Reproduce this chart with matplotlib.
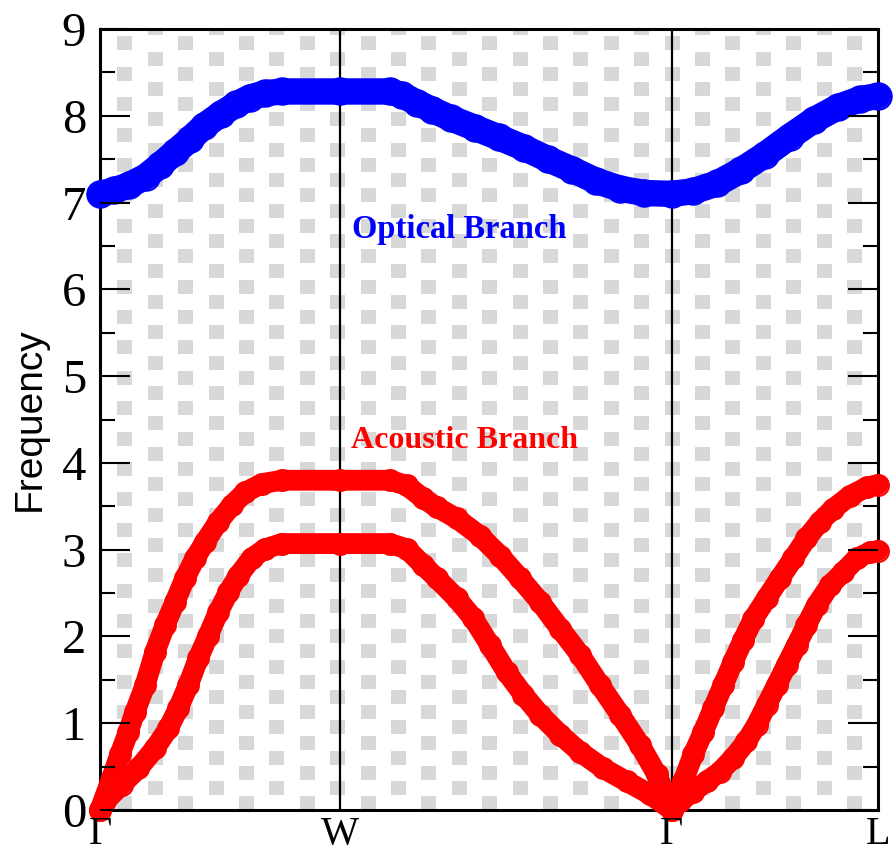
import numpy as np
import matplotlib
matplotlib.use('Agg')
import matplotlib.pyplot as plt

# high-symmetry points of the path
kpt_labels = ['Γ', 'W', 'Γ', 'L']
kpt_pos = [0.0, 1.0, 2.383, 3.242]

# optical branch
k_opt = [0.000, 0.058, 0.121, 0.192, 0.250, 0.313, 0.375, 0.433, 0.504, 0.567,
         0.625, 0.688, 0.758, 1.000, 1.208, 1.258, 1.321, 1.383, 1.463, 1.563,
         1.663, 1.767, 1.867, 1.967, 2.067, 2.167, 2.267, 2.383, 2.471, 2.571,
         2.671, 2.771, 2.875, 2.975, 3.075, 3.167, 3.242]
f_opt = [7.10, 7.14, 7.20, 7.30, 7.43, 7.58, 7.73, 7.88, 8.02, 8.13,
         8.21, 8.26, 8.28, 8.28, 8.28, 8.24, 8.15, 8.07, 7.97, 7.86,
         7.75, 7.63, 7.50, 7.38, 7.25, 7.16, 7.11, 7.10, 7.13, 7.22,
         7.37, 7.55, 7.76, 7.95, 8.10, 8.19, 8.23]

# upper acoustic branch
k_la = [0.000, 0.049, 0.083, 0.118, 0.146, 0.188, 0.229, 0.271, 0.313, 0.354,
        0.396, 0.438, 0.493, 0.549, 0.604, 0.674, 0.757, 1.000, 1.208, 1.278,
        1.347, 1.403, 1.486, 1.583, 1.667, 1.750, 1.833, 1.917, 2.000, 2.083,
        2.167, 2.250, 2.320, 2.383, 2.430, 2.472, 2.514, 2.555, 2.597, 2.639,
        2.680, 2.722, 2.778, 2.833, 2.889, 2.944, 3.000, 3.055, 3.125, 3.195,
        3.242]
f_la = [0.00, 0.37, 0.64, 0.90, 1.13, 1.44, 1.82, 2.13, 2.40, 2.67,
        2.90, 3.09, 3.32, 3.51, 3.66, 3.76, 3.80, 3.80, 3.80, 3.74,
        3.59, 3.49, 3.36, 3.16, 2.93, 2.67, 2.40, 2.09, 1.79, 1.44,
        1.10, 0.75, 0.41, 0.00, 0.33, 0.64, 0.90, 1.17, 1.44, 1.71,
        1.96, 2.20, 2.44, 2.67, 2.90, 3.13, 3.32, 3.47, 3.62, 3.72,
        3.75]

# lower acoustic branch
k_ta = [0.000, 0.021, 0.090, 0.160, 0.229, 0.285, 0.326, 0.368, 0.410, 0.451,
        0.493, 0.535, 0.576, 0.632, 0.688, 0.757, 1.000, 1.208, 1.278, 1.347,
        1.403, 1.486, 1.555, 1.625, 1.694, 1.764, 1.833, 1.917, 2.000, 2.097,
        2.194, 2.292, 2.383, 2.417, 2.472, 2.528, 2.583, 2.639, 2.694, 2.736,
        2.778, 2.820, 2.861, 2.903, 2.944, 2.986, 3.042, 3.097, 3.153, 3.208,
        3.242]
f_ta = [0.00, 0.10, 0.29, 0.48, 0.71, 0.94, 1.17, 1.44, 1.75, 2.01,
        2.28, 2.51, 2.70, 2.90, 3.01, 3.07, 3.07, 3.07, 3.01, 2.82,
        2.67, 2.44, 2.21, 1.90, 1.59, 1.33, 1.10, 0.87, 0.67, 0.48,
        0.33, 0.18, 0.00, 0.10, 0.21, 0.33, 0.44, 0.60, 0.79, 0.98,
        1.21, 1.44, 1.67, 1.90, 2.13, 2.36, 2.59, 2.74, 2.90, 2.97,
        2.99]

fig = plt.figure(figsize=(8.93, 8.56), dpi=100)
pos = [100 / 893, 46 / 856, 778 / 893, 781 / 856]

# patterned background (staggered grey squares)
bg = fig.add_axes(pos, zorder=0)
hp, wp = 781, 778
yy, xx = np.mgrid[0:hp, 0:wp]
r = np.floor((yy - 7) / 15.2)
c = np.floor((xx - 17) / 30.4)
on = (((xx - 17) - c * 30.4) < 15) & (((yy - 7) - r * 15.2) < 14) & ((r + c) % 2 == 0)
img = np.ones((hp, wp, 3))
img[on] = 0.85
bg.imshow(img, aspect='auto', interpolation='nearest', extent=[0, 1, 0, 1])
bg.axis('off')

ax = fig.add_axes(pos, zorder=1)
ax.patch.set_visible(False)

for x in kpt_pos[1:3]:
    ax.axvline(x, color='black', lw=1.6, zorder=1)

ax.plot(k_opt, f_opt, '-o', color='blue', lw=19, ms=19, mfc='none', mew=1.5,
        solid_capstyle='round', solid_joinstyle='round', clip_on=False, zorder=3)
ax.plot(k_la, f_la, '-o', color='red', lw=15, ms=15, mfc='none', mew=1.5,
        solid_capstyle='round', solid_joinstyle='round', clip_on=False, zorder=3)
ax.plot(k_ta, f_ta, '-o', color='red', lw=15, ms=15, mfc='none', mew=1.5,
        solid_capstyle='round', solid_joinstyle='round', clip_on=False, zorder=3)

ax.text(1.496, 6.69, 'Optical Branch', color='blue', fontsize=23.5,
        fontweight='bold', family='Liberation Serif', ha='center', va='center')
ax.text(1.517, 4.26, 'Acoustic Branch', color='red', fontsize=23,
        fontweight='bold', family='Liberation Serif', ha='center', va='center')

ax.set_xlim(kpt_pos[0], kpt_pos[-1])
ax.set_ylim(0, 9)
ax.set_xticks(kpt_pos)
ax.set_xticklabels(kpt_labels, family='Liberation Serif', fontsize=29)
ax.set_yticks(range(10))
ax.set_yticklabels([str(v) for v in range(10)], family='Liberation Serif', fontsize=35)
ax.set_yticks(np.arange(0.5, 9, 1), minor=True)
ax.tick_params(axis='x', length=0, pad=4)
ax.tick_params(axis='y', which='major', direction='in', length=21.5, width=1.5,
               left=True, right=True, pad=10)
ax.tick_params(axis='y', which='minor', direction='in', length=11, width=1.5,
               left=True, right=True)
ax.xaxis.set_zorder(5)
ax.yaxis.set_zorder(5)
for s in ax.spines.values():
    s.set_linewidth(2.2)

ax.set_ylabel('Frequency', family='Liberation Sans', fontsize=28, labelpad=10)

fig.savefig('out.png', dpi=100)
